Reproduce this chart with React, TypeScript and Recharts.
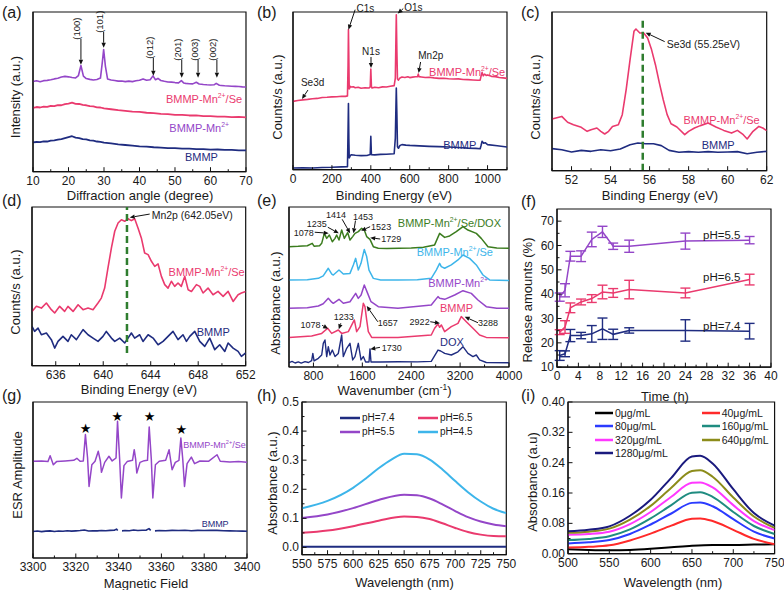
import React from 'react';
import { LineChart, Line, XAxis, YAxis, ReferenceDot, ReferenceLine, ReferenceArea, ErrorBar, Legend } from 'recharts';

type Pt = [number, number | null];

// ---------- (a) XRD ----------
const xrdMnSe: Pt[] = [[10,56.5],[11,56.9],[12,56.3],[13,57.0],[14,57.2],[15,57.6],[16,58.1],[17,58.5],[18,59.3],[19,59.7],[20,59.4],[21,59.0],[22,58.7],[22.8,60.2],[23.5,66.5],[24.2,59.8],[25,58.3],[26,57.8],[27,57.4],[28,57.7],[29,58.6],[29.5,68.0],[29.9,76.5],[30.4,66.0],[31,58.1],[32,57.4],[33,57.1],[34,56.7],[35,56.8],[36,56.4],[37,56.7],[38,56.4],[39,56.9],[40,57.3],[41,58.1],[42,57.3],[43,57.6],[43.8,60.0],[44.5,57.6],[45.2,58.4],[46,57.1],[47,56.6],[48,56.2],[49,56.1],[50,55.8],[51,55.6],[51.8,57.0],[52.5,55.5],[53,55.3],[54,55.1],[55,55.0],[56,56.0],[56.8,54.9],[58,54.6],[59,54.4],[60,54.3],[61,54.4],[61.6,55.3],[62.5,54.1],[63,54.0],[64,53.8],[65,53.7],[66,53.5],[67,53.4],[68,53.3],[69,53.1],[70,53.0]];
const xrdMn: Pt[] = [[10,40.0],[11,40.5],[12,40.2],[13,40.8],[14,40.6],[15,41.2],[16,41.0],[17,41.7],[18,41.6],[19,42.3],[20,42.6],[21,43.2],[22,42.5],[23,42.4],[24,41.8],[25,41.6],[26,41.0],[27,40.9],[28,40.3],[29,40.2],[30,39.6],[32,39.1],[34,38.5],[36,38.1],[38,37.6],[40,37.4],[42,36.9],[44,36.7],[46,36.2],[48,36.1],[50,35.6],[52,35.6],[54,35.2],[56,35.2],[58,34.8],[60,34.8],[62,34.5],[64,34.5],[66,34.2],[68,34.3],[70,34.0]];
const xrdB: Pt[] = [[10,18.3],[11,18.6],[12,18.5],[13,19.0],[14,18.9],[15,19.4],[16,19.6],[17,20.1],[18,20.4],[19,21.0],[20,21.6],[21,22.2],[22,21.3],[23,21.0],[24,20.4],[25,20.2],[26,19.6],[27,19.4],[28,18.9],[29,18.7],[30,18.2],[32,17.7],[34,17.1],[36,16.7],[38,16.3],[40,15.9],[42,15.7],[44,15.3],[46,15.1],[48,14.8],[50,14.7],[52,14.4],[54,14.4],[56,14.1],[58,14.1],[60,13.8],[62,13.9],[64,13.6],[66,13.6],[68,13.4],[70,13.4]];
const xrdPeaks: [number, number, string, number][] = [[23.5,67,'(100)',26],[29.9,77.6,'(101)',16],[43.9,60.1,'(012)',18],[51.9,58.9,'(201)',18],[56.5,58.9,'(003)',18],[61.8,58.9,'(002)',18]];
const aTicks = [10,20,30,40,50,60,70];
const aMinor = [15,25,35,45,55,65];

// ---------- (b) XPS survey ----------
const xpsSe: Pt[] = [[0,43.3],[25,43.9],[50,44.3],[75,44.6],[100,45.0],[125,45.2],[150,45.8],[175,45.9],[200,46.2],[225,46.3],[250,46.6],[270,46.5],[280,46.8],[283,66],[285,88.8],[287,70],[289,51.2],[295,52.8],[300,52.4],[310,52.6],[320,52.0],[335,52.3],[350,51.6],[370,52.0],[390,51.8],[397,52.5],[400,63.8],[403,53],[406,51.8],[420,52.3],[440,52.0],[460,52.5],[480,52.4],[500,52.9],[520,53.3],[526,58],[531,98.3],[534,75],[537,57.5],[542,56.8],[550,58.2],[560,58.8],[575,58.5],[590,58.9],[600,58.4],[615,58.7],[630,58.9],[640,59.0],[644,60.6],[648,59.0],[660,58.8],[680,58.5],[700,58.6],[725,58.2],[750,57.9],[775,58.0],[800,57.7],[825,57.5],[850,57.6],[875,57.2],[900,57.1],[925,56.9],[950,56.7],[962,56.8],[966,59],[972,61.7],[978,59.5],[985,60.6],[993,59.8],[1000,60.1],[1020,59.2],[1040,59.0],[1060,58.5],[1080,58.2],[1100,57.9]];
const xpsB: Pt[] = [[0,1.1],[50,1.2],[100,1.1],[150,1.4],[200,1.5],[250,1.8],[280,1.9],[283,25],[285,41.9],[287,20],[289,7.4],[295,9.0],[300,9.5],[320,9.2],[350,8.9],[380,9.0],[397,9.6],[400,21.1],[403,9.5],[420,9.4],[450,9.7],[480,9.8],[520,10.1],[526,20],[531,51.8],[534,35],[537,14.5],[542,13.6],[550,15.4],[560,15.9],[580,15.6],[600,15.4],[650,15.1],[700,14.8],[750,14.6],[800,14.4],[850,14.1],[900,13.7],[940,13.5],[962,13.3],[966,15],[972,18.0],[980,16.8],[988,17.1],[1000,15.9],[1050,15.2],[1100,14.4]];
const bTicks = [0,200,400,600,800,1000];
const bMinor = [100,300,500,700,900,1100];

// ---------- (c) Se3d ----------
const se3dSe: Pt[] = [[51.0,32.6],[51.5,34.2],[51.8,30.5],[52.1,29.0],[52.5,27.3],[52.8,24.8],[53.0,25.8],[53.3,26.9],[53.5,24.8],[53.7,23.1],[53.9,24.8],[54.1,27.9],[54.4,29.0],[54.6,35.3],[54.8,51.1],[55.0,70.0],[55.2,87.8],[55.3,89.3],[55.5,86.8],[55.7,86.8],[55.9,83.6],[56.1,76.3],[56.3,66.8],[56.5,55.3],[56.7,44.7],[56.9,35.3],[57.1,29.6],[57.4,27.5],[57.8,22.7],[58.0,24.8],[58.3,26.9],[58.6,28.4],[59.0,30.0],[59.4,27.5],[59.8,25.4],[60.2,23.7],[60.5,25.4],[60.8,22.7],[61.0,20.0],[61.3,24.8],[61.6,27.9],[61.8,26.9],[62.0,25.2]];
const se3dB: Pt[] = [[51,13.9],[51.5,13.2],[52,11.8],[52.5,12.8],[53,12.2],[53.5,13.2],[54,12.6],[54.5,13.7],[55,16.4],[55.4,17.4],[55.8,17.0],[56.2,17.0],[56.6,15.8],[57,12.8],[57.5,11.6],[58,12.0],[58.5,11.6],[59,12.0],[59.5,11.6],[60,11.8],[60.5,12.0],[61,10.7],[61.5,11.6],[62,12.2]];
const cTicks = [52,54,56,58,60,62];
const cMinor = [51,53,55,57,59,61];

// ---------- (d) Mn2p ----------
const mn2pSe: Pt[] = [[634.0,34.2],[634.37,37.4],[634.79,36.3],[635.21,39.5],[635.63,35.3],[635.91,33.2],[636.33,37.4],[636.75,34.2],[637.03,37.4],[637.46,34.2],[637.88,38.4],[638.30,35.3],[638.72,36.3],[639.14,35.3],[639.56,39.5],[639.84,42.6],[640.12,48.9],[640.40,61.6],[640.69,74.2],[640.97,84.7],[641.25,89.9],[641.53,92.0],[641.81,91.0],[642.09,92.6],[642.37,91.4],[642.65,92.6],[642.93,86.8],[643.21,80.5],[643.49,71.0],[643.78,70.0],[644.06,65.8],[644.34,62.6],[644.62,64.1],[644.90,56.3],[645.18,51.1],[645.46,48.9],[645.74,53.2],[646.02,50.0],[646.30,52.1],[646.58,50.0],[646.87,56.3],[647.15,47.9],[647.43,46.8],[647.85,51.1],[648.13,50.0],[648.41,45.8],[648.83,48.9],[649.25,44.7],[649.67,46.8],[650.10,43.7],[650.52,46.8],[650.94,40.5],[651.36,44.7],[651.64,45.8],[652.0,46.8]];
const mn2pB: Pt[] = [[634.0,24.8],[634.22,21.6],[634.51,23.7],[634.79,19.5],[635.21,20.6],[635.63,16.4],[635.91,11.1],[636.19,15.3],[636.61,18.5],[637.03,15.3],[637.31,19.5],[637.74,16.4],[638.30,22.7],[638.72,19.5],[639.14,17.4],[639.56,15.3],[639.98,18.5],[640.26,21.6],[640.69,17.4],[640.97,15.3],[641.39,17.4],[641.81,14.3],[642.09,17.4],[642.37,20.6],[642.65,17.4],[643.07,19.5],[643.35,15.3],[643.78,19.5],[644.20,17.4],[644.62,13.2],[645.04,15.3],[645.46,18.5],[645.88,21.6],[646.30,16.4],[646.72,19.5],[647.01,15.3],[647.29,18.5],[647.71,21.6],[648.13,15.3],[648.55,12.2],[648.97,17.4],[649.39,10.1],[649.81,13.2],[650.24,9.0],[650.52,14.3],[650.94,11.1],[651.36,9.0],[651.64,5.9],[652.0,8.0]];
const dTicks = [636,640,644,648,652];
const dMinor = [634,638,642,646,650];

// ---------- (e) FTIR ----------
const ftirDoxMix: Pt[] = [[400,75.2],[550,75.4],[700,75.8],[780,77.3],[810,75.5],[900,75.8],[935,77.3],[978,83.5],[1017,80.4],[1060,82.5],[1109,78.3],[1153,80.4],[1180,82.5],[1218,79.4],[1262,85.6],[1305,80.4],[1360,84],[1398,79.4],[1442,81.5],[1480,83.5],[1534,84.6],[1589,86.7],[1632,85.6],[1671,81.5],[1725,79.8],[1780,75.2],[1860,74.2],[2000,74.0],[2200,74.2],[2400,74.4],[2600,74.8],[2783,76.3],[2865,83.5],[2947,81.0],[3029,81.9],[3137,84.6],[3247,87.7],[3328,85.6],[3465,83.5],[3546,80.4],[3656,75.2],[3800,74.4],[4000,74.2]];
const ftirSe: Pt[] = [[400,54.4],[700,54.6],[880,55.4],[960,57],[1043,61.7],[1100,58],[1125,57.5],[1218,60.6],[1289,58.1],[1398,58.5],[1453,63.8],[1491,67.9],[1534,60.6],[1578,64.8],[1632,73.5],[1671,69],[1709,60.6],[1780,55.4],[1900,54.4],[2183,54.4],[2500,54.6],[2728,55.4],[2810,60.6],[2865,64.8],[2892,62.7],[2947,61.7],[3056,63.8],[3165,66.9],[3247,70],[3356,67.9],[3465,63.8],[3574,57.5],[3683,54.4],[4000,54.0]];
const ftirMn: Pt[] = [[400,36.7],[700,37.0],[880,38.1],[960,39.5],[1043,42.9],[1100,40.5],[1125,39.8],[1218,42.3],[1289,39.8],[1398,40.8],[1491,46.0],[1534,42.9],[1580,45],[1632,51.3],[1687,46],[1742,40.8],[1861,37.7],[2183,36.7],[2728,38.7],[2838,44],[2865,43],[2947,42.3],[3111,45.0],[3247,47.7],[3383,46.0],[3492,41.9],[3628,37.7],[3800,36.7],[4000,36.7]];
const ftirB: Pt[] = [[400,18.5],[771,19.4],[935,21.0],[1033,24.2],[1098,21.0],[1207,23.1],[1262,21.0],[1371,22.1],[1469,29.4],[1507,22.1],[1562,25.2],[1616,39.8],[1643,37.7],[1671,29.4],[1698,22.1],[1753,18.5],[2183,18.5],[2728,20.0],[2783,24.2],[2838,26.9],[2865,24.8],[2892,26.3],[2947,22.1],[3056,25.2],[3165,27.3],[3219,31.5],[3301,28.3],[3410,24.2],[3519,20.0],[3628,18.5],[4000,18.3]];
const ftirDox: Pt[] = [[400,2.7],[450,3.5],[500,2.5],[552,3.2],[600,2.4],[662,3.4],[720,2.8],[771,4.0],[790,8.5],[810,3.8],[880,5.4],[935,7.5],[961,14.8],[989,16.9],[1017,6.5],[1043,12.7],[1071,7.5],[1109,10.6],[1153,6.5],[1207,8.5],[1262,20.0],[1289,6.5],[1344,11.7],[1398,14.8],[1442,4.4],[1480,6.5],[1534,14.8],[1578,4.4],[1616,6.5],[1654,3.1],[1709,3.1],[1725,11.3],[1742,3.1],[1900,3.1],[2183,3.3],[2500,3.2],[2728,3.5],[2838,10.6],[2882,10.0],[2947,8.5],[3056,7.5],[3165,9.5],[3247,12.7],[3328,8.5],[3410,6.5],[3465,7.5],[3519,4.4],[3628,2.8],[4000,2.7]];
// tip x, tip y, text, tail dx, tail dy, text dx, text dy, anchor
const ftirNotes: [number, number, string, number, number, number, number, string][] = [
  [1050,83.6,'1078',-14,-1,-15,2.5,'end'],
  [1215,83.6,'1235',-11,-6,-12,-6.5,'end'],
  [1400,83.6,'1414',-8,-14,-14,-15.5,'middle'],
  [1455,83.6,'1453',2,-12.6,-0.5,-13.5,'start'],
  [1580,85.2,'1523',9,-4,10,-1,'start'],
  [1729,80.8,'1729',10,1.3,11,4.3,'start'],
  [1040,23.9,'1078',-6,-3.5,-7.5,-0.5,'end'],
  [1215,23.6,'1233',2,-6,5,-9,'middle'],
  [1672,38.1,'1657',11,15.7,11,20,'start'],
  [1730,11.1,'1730',9.7,-1.9,11.4,1.8,'start'],
  [2870,27.3,'2922',-9.7,-1.6,-10.3,1.7,'end'],
  [3275,31.4,'3288',13.3,6,13.3,9.3,'start'],
];
const eTicks = [800,1600,2400,3200,4000];
const eMinor = [1200,2000,2800,3600];

// ---------- (f) release ----------
const relTime = [0.5,1.5,2.5,4.5,6.5,8.5,10.5,13.5,24,36];
const rel55 = [38.8,41.6,55.6,55.6,62.5,65.6,59.7,59.7,61.8,62.2];
const rel55Err = [1.7,2.7,2.0,2.2,3.0,2.3,1.3,2.5,3.3,1.5];
const rel65 = [24.4,26.5,34.4,36.8,38.2,40.9,40.5,41.9,40.5,46.0];
const rel65Err = [1.0,2.6,2.0,1.2,1.6,2.8,1.8,3.8,2.0,2.2];
const rel74 = [14.8,15.5,23.0,23.0,23.7,25.8,23.5,25.1,25.1,24.8];
const rel74Err = [2.0,1.2,2.5,1.3,3.4,4.4,2.1,1.1,4.4,3.2];
const fxTicks = [0,4,8,12,16,20,24,28,32,36,40];
const fxMinor = [2,6,10,14,18,22,26,30,34,38];
const fyTicks = [10,20,30,40,50,60,70];
const fyMinor = [15,25,35,45,55,65];

// ---------- (g) ESR ----------
const esrSe: Pt[] = [[3300,62.0],[3304,62.2],[3307,61.8],[3308,65.6],[3309.5,59.8],[3311,61.8],[3315,62.2],[3319,62.6],[3320.5,63.9],[3322,62.0],[3323.5,62.2],[3324.5,79.1],[3325.5,64.1],[3326.2,45.9],[3327.5,59.8],[3329,62.0],[3330.5,68.4],[3331.5,62.0],[3332,54.9],[3333.5,61.3],[3335.5,65.2],[3337,62.2],[3338.8,64.1],[3339.5,87.6],[3340.5,63.0],[3341.3,38.5],[3342.5,59.2],[3344,61.8],[3346.5,62.6],[3347.3,69.4],[3348,63.0],[3348.5,54.5],[3350,61.3],[3352,62.4],[3353.5,62.6],[3354.3,84.0],[3355.3,63.0],[3356,38.5],[3357.2,59.8],[3359,62.0],[3362,62.6],[3363.6,69.4],[3364.4,62.0],[3365,56.6],[3366.5,61.3],[3368.2,62.6],[3369.1,76.9],[3370,63.0],[3370.8,45.9],[3372,60.5],[3374,64.7],[3375.5,60.5],[3378,62.2],[3382,62.0],[3386,66.2],[3387.5,62.0],[3392,61.5],[3396,61.8],[3400,61.3]];
const esrB: Pt[] = [[3300,17.0],[3302,17.3],[3304,16.9],[3306,17.2],[3308,17.4],[3310,17.0],[3312,17.3],[3314,17.1],[3316,17.5],[3318,17.2],[3320,17.4],[3322,17.6],[3324,17.9],[3326,17.3],[3328,17.5],[3330,17.4],[3332,17.6],[3334,17.5],[3336,17.7],[3338,17.8],[3339,18.5],[3339.6,17.6],[3340.2,null],[3341.6,17.4],[3343,17.6],[3345,17.5],[3347,17.9],[3349,17.6],[3351,17.8],[3353,17.9],[3354.2,18.8],[3355,17.7],[3355.6,null],[3357,17.4],[3359,17.6],[3362,17.5],[3365,17.7],[3368,17.6],[3371,17.8],[3374,17.5],[3377,17.7],[3380,17.6],[3383,17.8],[3386,17.7],[3389,17.5],[3392,17.4],[3395,17.3],[3398,17.2],[3400,17.1]];
const esrStars: [number, number][] = [[3324.6,82.9],[3339.4,90.6],[3354.5,90.6],[3369.3,82.2]];
const gTicks = [3300,3320,3340,3360,3380,3400];
const gMinor = [3310,3330,3350,3370,3390];

// ---------- (h) UV-vis pH ----------
const uvPh74: Pt[] = [[550,0.002],[600,0.002],[650,0.002],[700,0.002],[750,0.002]];
const uvPh65: Pt[] = [[550,0.05],[575,0.058],[600,0.073],[625,0.092],[650,0.106],[662.5,0.105],[675,0.098],[687.5,0.083],[700,0.067],[712.5,0.053],[725,0.044],[737.5,0.039],[750,0.038]];
const uvPh55: Pt[] = [[550,0.101],[575,0.113],[600,0.135],[625,0.163],[650,0.181],[662.5,0.179],[675,0.168],[687.5,0.148],[700,0.125],[712.5,0.104],[725,0.089],[737.5,0.079],[750,0.073]];
const uvPh45: Pt[] = [[550,0.135],[575,0.16],[600,0.205],[612.5,0.237],[625,0.272],[637.5,0.302],[650,0.322],[662.5,0.32],[675,0.302],[687.5,0.268],[700,0.228],[712.5,0.19],[725,0.158],[737.5,0.133],[750,0.118]];
const hNames = ['pH=7.4','pH=6.5','pH=5.5','pH=4.5'];
const hxTicks = [550,575,600,625,650,675,700,725,750];
const hxMinor = [562.5,587.5,612.5,637.5,662.5,687.5,712.5,737.5];
const hyTicks = [0,0.1,0.2,0.3,0.4,0.5];
const hyMinor = [0.05,0.15,0.25,0.35,0.45];

// ---------- (i) UV-vis concentration ----------
const uv0: Pt[] = [[500,0.012],[525,0.010],[550,0.009],[575,0.010],[600,0.013],[625,0.017],[650,0.021],[675,0.023],[700,0.023],[725,0.024],[750,0.025]];
const uv40: Pt[] = [[500,0.016],[525,0.018],[550,0.022],[575,0.035],[600,0.053],[625,0.074],[650,0.092],[660,0.093],[675,0.086],[700,0.063],[725,0.039],[750,0.025]];
const uv80: Pt[] = [[500,0.027],[525,0.030],[550,0.036],[575,0.052],[600,0.077],[625,0.106],[650,0.134],[660,0.135],[675,0.125],[700,0.091],[725,0.058],[750,0.040]];
const uv160: Pt[] = [[500,0.036],[525,0.039],[550,0.046],[575,0.064],[600,0.093],[625,0.128],[650,0.161],[660,0.162],[675,0.150],[700,0.110],[725,0.073],[750,0.052]];
const uv320: Pt[] = [[500,0.050],[525,0.052],[550,0.058],[575,0.078],[600,0.110],[625,0.150],[650,0.187],[660,0.188],[675,0.175],[700,0.128],[725,0.086],[750,0.062]];
const uv640: Pt[] = [[500,0.055],[525,0.058],[550,0.066],[575,0.090],[600,0.126],[625,0.174],[650,0.218],[660,0.220],[675,0.203],[700,0.148],[725,0.098],[750,0.068]];
const uv1280: Pt[] = [[500,0.059],[525,0.063],[550,0.072],[575,0.100],[600,0.142],[625,0.200],[650,0.256],[660,0.258],[675,0.238],[700,0.170],[725,0.107],[750,0.074]];
const iNames = ['0μg/mL','40μg/mL','80μg/mL','160μg/mL','320μg/mL','640μg/mL','1280μg/mL'];
const ixTicks = [500,550,600,650,700,750];
const ixMinor = [525,575,625,675,725];
const iyTicks = [0,0.08,0.16,0.24,0.32,0.40];
const iyMinor = [0.04,0.12,0.2,0.28,0.36];

// ---------- styling ----------
const FONT = '"Liberation Sans", Arial, Helvetica, sans-serif';
const C = { navy: '#1f2c80', pink: '#ea3a6e', purple: '#9446c8', sky: '#3db5ea', green: '#3b7c1e', dash: '#2f7d2f', text: '#1a1a1a' };
const CI = { c0: '#000000', c40: '#ff2a2a', c80: '#2b3bff', c160: '#1f8c80', c320: '#ff38ff', c640: '#8c8c1a', c1280: '#1a1a7e' };
const YW = 44, XH = 34, MT = 26, MR = 14;
const AX = { stroke: '#111', strokeWidth: 1.2 };

const toXY = (d: Pt[]) => d.map(([x, y]) => ({ x, y }));

const xTick = (majors: number[], fmt?: (v: number) => string) => (p: any) => {
  const v = p.payload.value;
  const major = majors.some((m) => Math.abs(m - v) < 1e-6);
  return (
    <g>
      <line x1={p.x} x2={p.x} y1={p.y} y2={p.y - (major ? 4.5 : 2.5)} stroke="#111" strokeWidth={1} />
      {major && (
        <text x={p.x} y={p.y + 13} textAnchor="middle" fontSize={12} fill={C.text} fontFamily={FONT}>
          {fmt ? fmt(v) : String(v)}
        </text>
      )}
    </g>
  );
};
const yTick = (majors: number[], fmt?: (v: number) => string) => (p: any) => {
  const v = p.payload.value;
  const major = majors.some((m) => Math.abs(m - v) < 1e-6);
  return (
    <g>
      <line x1={p.x} x2={p.x + (major ? 4.5 : 2.5)} y1={p.y} y2={p.y} stroke="#111" strokeWidth={1} />
      {major && (
        <text x={p.x - 3} y={p.y + 4} textAnchor="end" fontSize={12} fill={C.text} fontFamily={FONT}>
          {fmt ? fmt(v) : String(v)}
        </text>
      )}
    </g>
  );
};

function Rich({ x, y, s, fs, fill, anchor = 'start' }: any) {
  const parts = String(s).split('^');
  return (
    <text x={x} y={y} fontSize={fs} fill={fill} textAnchor={anchor} fontFamily={FONT}>
      {parts.map((t, i) =>
        i % 2 === 1 ? (
          <tspan key={i} dy={-fs * 0.42} fontSize={fs * 0.62}>{t}</tspan>
        ) : (
          <tspan key={i} dy={i === 0 ? 0 : fs * 0.42}>{t}</tspan>
        )
      )}
    </text>
  );
}

function Arrow({ x1, y1, x2, y2, c = '#111', w = 1 }: any) {
  const ang = Math.atan2(y2 - y1, x2 - x1);
  const L = 5, Wd = 2.2;
  const bx = x2 - L * Math.cos(ang), by = y2 - L * Math.sin(ang);
  const px = -Math.sin(ang) * Wd, py = Math.cos(ang) * Wd;
  return (
    <g>
      <line x1={x1} y1={y1} x2={bx} y2={by} stroke={c} strokeWidth={w} />
      <polygon points={`${x2},${y2} ${bx + px},${by + py} ${bx - px},${by - py}`} fill={c} />
    </g>
  );
}

const note = (k: string, x: number, y: number, draw: (cx: number, cy: number) => any) => (
  <ReferenceDot key={k} x={x} y={y} r={0} ifOverflow="visible" shape={(p: any) => <g>{draw(p.cx, p.cy)}</g>} />
);
const label = (k: string, x: number, y: number, s: string, fill: string, fs = 11, anchor = 'start') =>
  note(k, x, y, (cx, cy) => <Rich x={cx} y={cy} s={s} fs={fs} fill={fill} anchor={anchor} />);
const callout = (k: string, x: number, y: number, s: string, tdx: number, tdy: number, ldx: number, ldy: number, anchor: string, fs: number) =>
  note(k, x, y, (cx, cy) => (
    <g>
      <Arrow x1={cx + tdx} y1={cy + tdy} x2={cx} y2={cy} />
      <text x={cx + ldx} y={cy + ldy} fontSize={fs} fill={C.text} textAnchor={anchor} fontFamily={FONT}>{s}</text>
    </g>
  ));

function curve(key: string, d: Pt[], color: string, w = 1.5, type: any = 'linear', name?: string) {
  return (
    <Line key={key} name={name || key} data={toXY(d)} dataKey="y" type={type} stroke={color} strokeWidth={w}
      dot={false} activeDot={false} isAnimationActive={false} strokeLinejoin="round" />
  );
}

function LegendGrid({ payload, colW, rowH, fs, sw, order }: any) {
  const items = (payload || []).slice().sort((a: any, b: any) => order.indexOf(a.value) - order.indexOf(b.value));
  return (
    <div style={{ display: 'grid', gridTemplateColumns: `${colW}px ${colW}px`, gridAutoRows: `${rowH}px`, fontFamily: FONT, fontSize: fs, color: C.text }}>
      {items.map((e: any) => (
        <div key={e.value} style={{ display: 'flex', alignItems: 'center', whiteSpace: 'nowrap' }}>
          <svg width={sw} height={6} style={{ marginRight: 2, flex: 'none' }}>
            <line x1={0} y1={3} x2={sw} y2={3} stroke={e.color} strokeWidth={2.5} />
          </svg>
          <span>{e.value}</span>
        </div>
      ))}
    </div>
  );
}

function Panel(props: any) {
  const { box, xd, xt, xm = [], xf, yd, yt, ym = [], yf, children, leg } = props;
  const W = box.r - box.l + YW + MR;
  const H = box.b - box.t + MT + XH;
  const left = box.l - YW, top = box.t - MT;
  const xAll = [...xt, ...xm].sort((a, b) => a - b);
  const yAll = yt ? [...yt, ...ym].sort((a, b) => a - b) : null;
  return (
    <div style={{ position: 'absolute', left, top, width: W, height: H }}>
      <LineChart width={W} height={H} margin={{ top: MT, right: MR, bottom: 0, left: 0 }}>
        <XAxis type="number" dataKey="x" domain={xd} allowDataOverflow ticks={xAll} interval={0} height={XH}
          tickSize={0} tickMargin={0} tickLine={false} axisLine={AX} tick={xTick(xt, xf)} />
        {yAll ? (
          <YAxis type="number" domain={yd} allowDataOverflow ticks={yAll} interval={0} width={YW}
            tickSize={0} tickMargin={0} tickLine={false} axisLine={AX} tick={yTick(yt, yf)} />
        ) : (
          <YAxis type="number" domain={yd} allowDataOverflow width={YW} tick={false} tickLine={false} axisLine={AX} />
        )}
        <ReferenceArea x1={xd[0]} x2={xd[1]} y1={yd[0]} y2={yd[1]} fill="none" fillOpacity={0} stroke="#111" strokeWidth={1.2} ifOverflow="visible" />
        {children}
        {leg && (
          <Legend layout="horizontal" verticalAlign="middle" align="center"
            wrapperStyle={{ left: leg.x - left, top: leg.y - top, width: 'auto' }}
            content={(p: any) => <LegendGrid payload={p.payload} colW={leg.colW} rowH={leg.rowH} fs={leg.fs} sw={leg.sw} order={leg.order} />} />
        )}
      </LineChart>
    </div>
  );
}

const panelLetters: [string, number, number][] = [['(a)',2,5],['(b)',257,5],['(c)',521,5],['(d)',2,193],['(e)',257,193],['(f)',521,194],['(g)',2,388],['(h)',257,388],['(i)',521,388]];
const xTitles: [any, number, number][] = [
  ['Diffraction angle (degree)',140,195.5],['Binding Energy (eV)',394,195.5],['Binding Energy (eV)',660,195.5],
  ['Binding Energy (eV)',139,389.5],[<span key="w">Wavenumber (cm<sup style={{ fontSize: '0.65em', lineHeight: 0 }}>-1</sup>)</span>,394.5,391],['Time (h)',665,396.5],
  ['Magnetic Field',146,583.5],['Wavelength (nm)',404.5,582.5],['Wavelength (nm)',673,582.5],
];
const yTitles: [string, number, number][] = [
  ['Intensity (a.u.)',16,97],['Counts/s (a.u.)',278.3,97],['Counts/s (a.u.)',535.7,97],
  ['Counts/s (a.u.)',16,291.7],['Absorbance (a.u.)',275.7,303],['Release amounts (%)',528,300],
  ['ESR Amplitude',18,475],['Absorbance (a.u.)',273.3,483],['Absorbance (a.u)',533,481.7],
];

export default function App() {
  const relRows = (vals: number[], errs: number[]) => relTime.map((t, i) => ({ x: t, y: vals[i], e: errs[i] }));
  const relLine = (k: string, vals: number[], errs: number[], color: string) => (
    <Line key={k} data={relRows(vals, errs)} dataKey="y" stroke={color} strokeWidth={1.5} dot={false} activeDot={false} isAnimationActive={false}>
      <ErrorBar dataKey="e" width={5} strokeWidth={1.4} stroke={color} direction="y" isAnimationActive={false} />
    </Line>
  );
  return (
    <div style={{ position: 'absolute', left: 0, top: 0, width: 784, height: 590, overflow: 'hidden', background: '#fff', fontFamily: FONT, color: C.text }}>
      {/* (a) */}
      <Panel box={{ l: 33, t: 12.3, r: 246, b: 172 }} xd={[10, 70]} xt={aTicks} xm={aMinor} yd={[0, 100]}>
        {curve('a-b', xrdB, C.navy, 1.8)}
        {curve('a-mn', xrdMn, C.pink, 1.8)}
        {curve('a-se', xrdMnSe, C.purple, 1.6)}
        {xrdPeaks.map(([x, y, t, L], i) =>
          note('ap' + i, x, y, (cx, cy) => (
            <g>
              <Arrow x1={cx} y1={cy - L} x2={cx} y2={cy} />
              <text transform={`translate(${cx - 0.5},${cy - L - 10}) rotate(-90)`} textAnchor="middle" fontSize={9.5} fill={C.text} fontFamily={FONT}>{t}</text>
            </g>
          ))
        )}
        {label('al1', 68.9, 43.2, 'BMMP-Mn^2+^/Se', C.pink, 11, 'end')}
        {label('al2', 65.2, 25.0, 'BMMP-Mn^2+', C.purple, 11, 'end')}
        {label('al3', 62.1, 6.9, 'BMMP', C.navy, 11, 'end')}
      </Panel>

      {/* (b) */}
      <Panel box={{ l: 292.7, t: 12.3, r: 506.7, b: 170 }} xd={[0, 1100]} xt={bTicks} xm={bMinor} yd={[0, 100]}>
        {curve('b-b', xpsB, C.navy, 1.6)}
        {curve('b-se', xpsSe, C.pink, 1.6)}
        {callout('bc1', 285, 88.8, 'C1s', 6.7, -20, 8, -17.3, 'start', 10)}
        {callout('bc2', 538, 99, 'O1s', 5.6, -5, 6.5, -2.3, 'start', 10)}
        {callout('bc3', 401, 64.5, 'N1s', 0, -11, 0, -13, 'middle', 10)}
        {callout('bc4', 645.6, 61.3, 'Mn2p', 2, -11, -0.3, -14, 'start', 10)}
        {callout('bc5', 46, 44.8, 'Se3d', 6, -9, -1, -13, 'start', 10)}
        {label('bl1', 1091, 59.6, 'BMMP-Mn^2+^/Se', C.pink, 11, 'end')}
        {label('bl2', 772.6, 13.3, 'BMMP', C.navy, 11, 'start')}
      </Panel>

      {/* (c) */}
      <Panel box={{ l: 552.3, t: 12.3, r: 767, b: 171 }} xd={[51, 62]} xt={cTicks} xm={cMinor} yd={[0, 100]}>
        {curve('c-b', se3dB, C.navy, 1.6)}
        {curve('c-se', se3dSe, C.pink, 1.6)}
        <ReferenceLine key="c-dash" segment={[{ x: 55.65, y: 0 }, { x: 55.65, y: 96 }]} stroke={C.dash} strokeWidth={2.5} strokeDasharray="7 4" />
        {callout('cc1', 55.8, 87.0, 'Se3d (55.25eV)', 19, 9, 21, 15.7, 'start', 10.5)}
        {label('cl1', 61.64, 29.6, 'BMMP-Mn^2+^/Se', C.pink, 11, 'end')}
        {label('cl2', 58.67, 13.9, 'BMMP', C.navy, 11, 'start')}
      </Panel>

      {/* (d) */}
      <Panel box={{ l: 32.3, t: 207.3, r: 246, b: 366 }} xd={[634, 652]} xt={dTicks} xm={dMinor} yd={[0, 100]}>
        {curve('d-b', mn2pB, C.navy, 1.6)}
        {curve('d-se', mn2pSe, C.pink, 1.6)}
        <ReferenceLine key="d-dash" segment={[{ x: 642.0, y: 8 }, { x: 642.0, y: 100 }]} stroke={C.dash} strokeWidth={2.5} strokeDasharray="7 4" />
        {callout('dc1', 642.23, 93.4, 'Mn2p (642.05eV)', 20, -3.4, 22, 1.3, 'start', 10.5)}
        {label('dl1', 651.92, 56.7, 'BMMP-Mn^2+^/Se', C.pink, 11, 'end')}
        {label('dl2', 647.88, 18.9, 'BMMP', C.navy, 11, 'start')}
      </Panel>

      {/* (e) */}
      <Panel box={{ l: 289, t: 207, r: 509, b: 367 }} xd={[400, 4000]} xt={eTicks} xm={eMinor} yd={[0, 100]}>
        {curve('e-dox', ftirDox, C.navy, 1.4)}
        {curve('e-b', ftirB, C.pink, 1.5)}
        {curve('e-mn', ftirMn, C.purple, 1.5)}
        {curve('e-se', ftirSe, C.sky, 1.5)}
        {curve('e-mix', ftirDoxMix, C.green, 1.5)}
        {ftirNotes.map(([x, y, t, tdx, tdy, ldx, ldy, a], i) => callout('en' + i, x, y, t, tdx, tdy, ldx, ldy, a, 9))}
        {label('el1', 3869, 87.5, 'BMMP-Mn^2+^/Se/DOX', C.green, 11, 'end')}
        {label('el2', 3738, 69.4, 'BMMP-Mn^2+^/Se', C.sky, 11, 'end')}
        {label('el3', 3656, 50, 'BMMP-Mn^2+', C.purple, 11, 'end')}
        {label('el4', 2871, 34.4, 'BMMP', C.pink, 11, 'start')}
        {label('el5', 2871, 13.1, 'DOX', C.navy, 11, 'start')}
      </Panel>

      {/* (f) */}
      <Panel box={{ l: 557, t: 208.8, r: 771, b: 367 }} xd={[0, 40]} xt={fxTicks} xm={fxMinor} yd={[10, 75]} yt={fyTicks} ym={fyMinor}>
        {relLine('f74', rel74, rel74Err, C.navy)}
        {relLine('f65', rel65, rel65Err, C.pink)}
        {relLine('f55', rel55, rel55Err, C.purple)}
        {label('fl1', 27.3, 62.6, 'pH=5.5', C.text, 11.5)}
        {label('fl2', 27.3, 45.3, 'pH=6.5', C.text, 11.5)}
        {label('fl3', 27.3, 25.2, 'pH=7.4', C.text, 11.5)}
      </Panel>

      {/* (g) */}
      <Panel box={{ l: 33.3, t: 402.3, r: 247.3, b: 558.3 }} xd={[3300, 3400]} xt={gTicks} xm={gMinor} yd={[0, 100]}>
        {curve('g-b', esrB, C.navy, 1.6)}
        {curve('g-se', esrSe, C.purple, 1.5)}
        {esrStars.map(([x, y], i) =>
          note('gs' + i, x, y, (cx, cy) => (
            <text x={cx} y={cy + 4.5} textAnchor="middle" fontSize={13} fill="#000" fontFamily='"DejaVu Sans", sans-serif'>★</text>
          ))
        )}
        {label('gl1', 3399.4, 70.7, 'BMMP-Mn^2+^/Se', C.purple, 9, 'end')}
        {label('gl2', 3378.8, 20.1, 'BMMP', C.navy, 9, 'start')}
      </Panel>

      {/* (h) */}
      <Panel box={{ l: 301.7, t: 402.3, r: 506, b: 555 }} xd={[550, 750]} xt={hxTicks} xm={hxMinor}
        yd={[-0.025, 0.5]} yt={hyTicks} ym={hyMinor} yf={(v: number) => v.toFixed(1)}
        leg={{ x: 340, y: 411, colW: 78, rowH: 14, fs: 10, sw: 20, order: hNames }}>
        {curve('h74', uvPh74, C.navy, 2, 'monotone', hNames[0])}
        {curve('h65', uvPh65, C.pink, 2, 'monotone', hNames[1])}
        {curve('h55', uvPh55, C.purple, 2, 'monotone', hNames[2])}
        {curve('h45', uvPh45, C.sky, 2, 'monotone', hNames[3])}
      </Panel>

      {/* (i) */}
      <Panel box={{ l: 567.7, t: 402.3, r: 774.3, b: 554 }} xd={[500, 750]} xt={ixTicks} xm={ixMinor}
        yd={[0, 0.4]} yt={iyTicks} ym={iyMinor} yf={(v: number) => v.toFixed(2)}
        leg={{ x: 595, y: 406, colW: 106.7, rowH: 13.5, fs: 10.5, sw: 18, order: iNames }}>
        {curve('i0', uv0, CI.c0, 2, 'monotone', iNames[0])}
        {curve('i40', uv40, CI.c40, 2, 'monotone', iNames[1])}
        {curve('i80', uv80, CI.c80, 2, 'monotone', iNames[2])}
        {curve('i160', uv160, CI.c160, 2, 'monotone', iNames[3])}
        {curve('i320', uv320, CI.c320, 2, 'monotone', iNames[4])}
        {curve('i640', uv640, CI.c640, 2, 'monotone', iNames[5])}
        {curve('i1280', uv1280, CI.c1280, 2, 'monotone', iNames[6])}
      </Panel>

      {panelLetters.map(([t, x, y]) => (
        <div key={t} style={{ position: 'absolute', left: x, top: y, fontSize: 16, lineHeight: '16px', whiteSpace: 'nowrap' }}>{t}</div>
      ))}
      {xTitles.map(([t, x, y], i) => (
        <div key={'xt' + i} style={{ position: 'absolute', left: x, top: y, transform: 'translate(-50%,-50%)', fontSize: 13, lineHeight: '12px', whiteSpace: 'nowrap' }}>{t}</div>
      ))}
      {yTitles.map(([t, x, y], i) => (
        <div key={'yt' + i} style={{ position: 'absolute', left: x, top: y, transform: 'translate(-50%,-50%) rotate(-90deg)', fontSize: 13, lineHeight: '12px', whiteSpace: 'nowrap' }}>{t}</div>
      ))}
    </div>
  );
}
